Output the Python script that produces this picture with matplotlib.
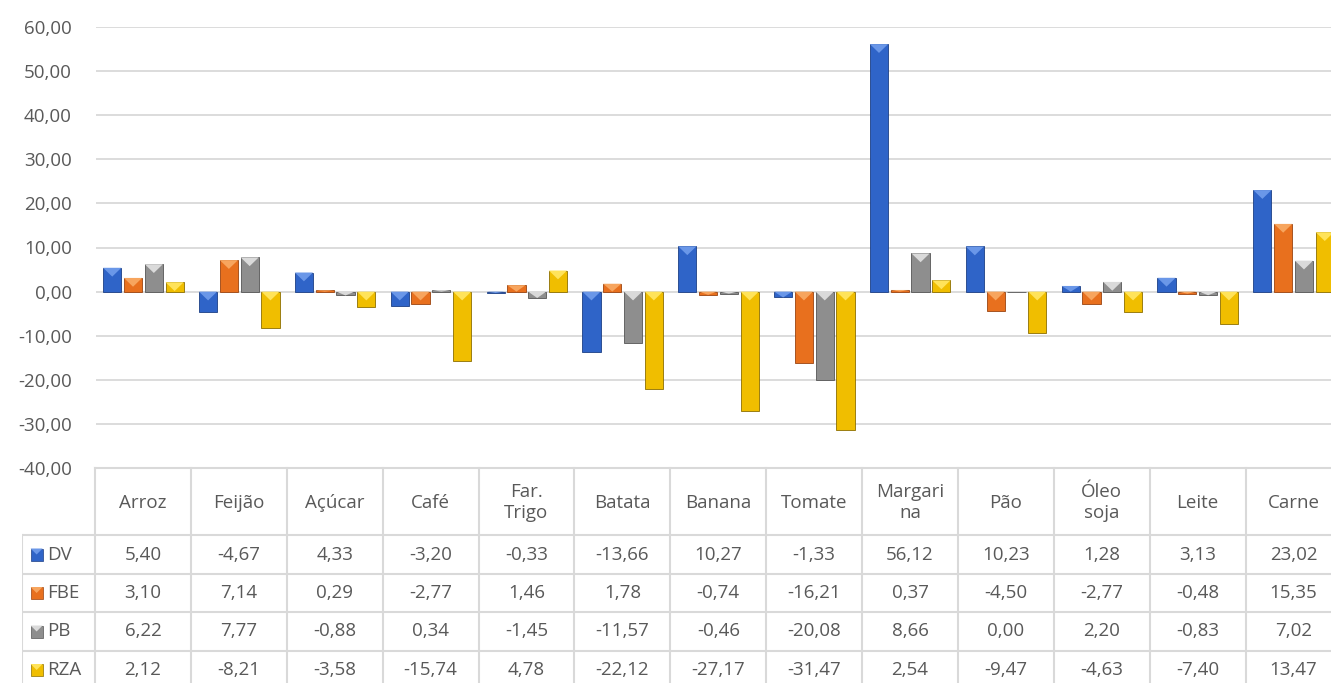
import matplotlib.pyplot as plt
import numpy as np

categories = ["Arroz", "Feijão", "Açúcar", "Café", "Far.\nTrigo", "Batata", "Banana",
              "Tomate", "Margari\nna", "Pão", "Óleo\nsoja", "Leite", "Carne"]
series_names = ["DV", "FBE", "PB", "RZA"]
dv = [5.40, -4.67, 4.33, -3.20, -0.33, -13.66, 10.27, -1.33, 56.12, 10.23, 1.28, 3.13, 23.02]
fbe = [3.10, 7.14, 0.29, -2.77, 1.46, 1.78, -0.74, -16.21, 0.37, -4.50, -2.77, -0.48, 15.35]
pb = [6.22, 7.77, -0.88, 0.34, -1.45, -11.57, -0.46, -20.08, 8.66, 0.00, 2.20, -0.83, 7.02]
rza = [2.12, -8.21, -3.58, -15.74, 4.78, -22.12, -27.17, -31.47, 2.54, -9.47, -4.63, -7.40, 13.47]
y_ticks = [-40, -30, -20, -10, 0, 10, 20, 30, 40, 50, 60]

colors = ["#2F64C8", "#E8701E", "#8E8E8E", "#F0BE00"]
lights = ["#6A97E8", "#F7A55E", "#DADADA", "#FFE35A"]
darks = ["#1C3F85", "#9A4410", "#555555", "#8C6E00"]
text_color = "#595959"
grid_color = "#D9D9D9"
fs = 13.5

W, H = 1331, 683
fig = plt.figure(figsize=(W / 100, H / 100), dpi=100)
plt.rcParams['font.family'] = ['Open Sans', 'DejaVu Sans']

# plot area in pixels
x0, x1 = 95.5, 1341.5
y_top, y_bot = 27, 468
ax = fig.add_axes([x0 / W, 1 - y_bot / H, (x1 - x0) / W, (y_bot - y_top) / H])

n = len(categories)
x = np.arange(n)
width = 0.19
step = 0.217
all_series = [dv, fbe, pb, rza]

for i, vals in enumerate(all_series):
    offs = (i - 1.5) * step
    ax.bar(x + offs, vals, width, color=colors[i], edgecolor=darks[i],
           linewidth=0.6, zorder=3)
    # bevel: lighter chevron along the top edge of each bar
    for xi, v in zip(x + offs, vals):
        if v == 0:
            continue
        top = max(v, 0)
        h = min(abs(v), 2.0)
        ax.fill([xi - width / 2, xi + width / 2, xi],
                [top, top, top - h], color=lights[i], lw=0, zorder=4)

ax.set_xlim(-0.5, n - 0.5)
ax.set_ylim(-40, 60)
ax.set_yticks(y_ticks)
ax.set_yticklabels([f"{t:.2f}".replace(".", ",") for t in y_ticks],
                   fontsize=fs, color=text_color)
ax.tick_params(axis="y", length=0, pad=17)
ax.set_xticks([])
ax.grid(axis="y", color=grid_color, linewidth=1.3, zorder=0)
for sp in ax.spines.values():
    sp.set_visible(False)

# data table under the chart
hdr_w = 73.0 / 95.85
tab_left = 22
tab_top = y_bot - 2
tab = fig.add_axes([tab_left / W, 0, (x1 - tab_left) / W, (H - tab_top) / H])
tab.set_xlim(-0.5 - hdr_w, n - 0.5)
tab.set_ylim(H, tab_top)
tab.axis("off")

rows = [468, 535, 574, 612, 651, 690]
lc = dict(color=grid_color, lw=1.5, zorder=1)
# horizontal lines
tab.plot([-0.5, n - 0.5], [rows[0], rows[0]], **lc)
for r in rows[1:-1]:
    tab.plot([-0.5 - hdr_w, n - 0.5], [r, r], **lc)
# vertical lines
for k in range(n + 1):
    tab.plot([k - 0.5, k - 0.5], [rows[0], H], **lc)
tab.plot([-0.5 - hdr_w, -0.5 - hdr_w], [rows[1], H], **lc)

for k, c in enumerate(categories):
    tab.text(k, (rows[0] + rows[1]) / 2 + 1, c, ha="center", va="center",
             fontsize=fs, color=text_color, linespacing=1.25)

for j, (name, vals) in enumerate(zip(series_names, all_series)):
    yc = (rows[j + 1] + rows[j + 2]) / 2
    if j == 3:
        yc = 670
    kx = -0.5 - hdr_w + 0.09
    tab.add_patch(plt.Rectangle((kx, yc - 6), 0.125, 12, color=colors[j],
                                ec=darks[j], lw=0.5, zorder=2))
    tab.fill([kx, kx + 0.125, kx + 0.0625], [yc - 6, yc - 6, yc],
             color=lights[j], lw=0, zorder=3)
    tab.text(kx + 0.17, yc, name, ha="left", va="center", fontsize=fs,
             color=text_color)
    for k, v in enumerate(vals):
        tab.text(k, yc, f"{v:.2f}".replace(".", ","), ha="center",
                 va="center", fontsize=fs, color=text_color)

fig.savefig("out.png", dpi=100)
